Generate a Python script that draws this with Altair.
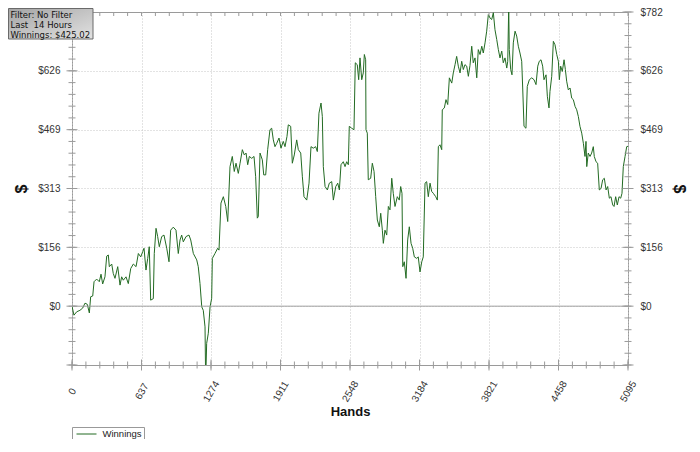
import altair as alt
import numpy as np
import pandas as pd

# ---------------- data ----------------
hands = [0, 18, 43, 73, 98, 119, 140, 159, 171, 190,
         202, 226, 250, 266, 281, 302, 318, 333, 342, 364,
         378, 394, 419, 440, 455, 470, 495, 516, 538, 562,
         587, 608, 630, 648, 660, 678, 694, 708, 721, 745,
         754, 770, 785, 800, 822, 843, 868, 889, 904, 928,
         953, 974, 990, 1005, 1020, 1045, 1072, 1088, 1112, 1143,
         1157, 1173, 1189, 1203, 1219, 1225, 1234, 1249, 1265, 1280,
         1286, 1310, 1335, 1347, 1365, 1387, 1409, 1427, 1448, 1469,
         1487, 1503, 1524, 1540, 1561, 1579, 1595, 1610, 1625, 1647,
         1668, 1683, 1698, 1707, 1723, 1744, 1757, 1775, 1793, 1814,
         1830, 1845, 1860, 1876, 1897, 1915, 1936, 1952, 1970, 1982,
         2004, 2019, 2037, 2059, 2074, 2096, 2111, 2126, 2151, 2172,
         2190, 2211, 2233, 2248, 2263, 2282, 2294, 2303, 2319, 2340,
         2358, 2380, 2395, 2417, 2435, 2450, 2465, 2486,
         2502, 2517, 2532, 2541, 2563, 2584, 2596, 2614, 2627, 2639,
         2655, 2669, 2679, 2691, 2694, 2706, 2715, 2737, 2752, 2768,
         2783, 2798, 2816, 2829, 2844, 2853, 2868, 2884, 2899, 2914,
         2930, 2944, 2960, 2981, 2999, 3012, 3024, 3031, 3045, 3061,
         3076, 3091, 3107, 3122, 3137, 3159, 3173, 3189, 3205, 3219,
         3235, 3250, 3265, 3281, 3296, 3311, 3333, 3348, 3357, 3372,
         3388, 3393, 3412, 3427, 3443, 3458, 3480, 3494, 3510, 3525,
         3540, 3556, 3571, 3586, 3601, 3617, 3632,
         3647, 3663, 3677, 3693, 3709, 3723, 3739, 3755, 3769, 3785,
         3800, 3815, 3831, 3846, 3861, 3876, 3892, 3907, 3922, 3938,
         3952, 3968, 3984, 3993, 4002, 4007, 4020, 4032, 4044, 4060,
         4075, 4090, 4105, 4121, 4130, 4142, 4160, 4172, 4191, 4213,
         4234, 4252, 4268, 4282, 4298, 4313, 4325, 4344, 4356, 4371,
         4380, 4396, 4411, 4426, 4442, 4457, 4466, 4478, 4493, 4509,
         4521, 4533, 4548, 4564, 4579, 4594, 4610, 4625, 4640, 4655,
         4671, 4686, 4701, 4710, 4717, 4731, 4747, 4762, 4777, 4786,
         4802, 4817, 4832, 4848, 4863, 4878, 4894, 4909, 4924, 4939,
         4955, 4967, 4982, 4997, 5013, 5028, 5040, 5052, 5068, 5083,
         5095]

winnings = [0, -24, -15, -11, -5, 8, 5, -18, 25, 27,
            65, 72, 65, 85, 59, 78, 133, 136, 105, 112,
            87, 74, 105, 56, 78, 69, 78, 60, 100, 112,
            105, 140, 131, 145, 154, 96, 127, 158, 16, 20,
            140, 207, 185, 158, 185, 189, 154, 118, 202, 210,
            202, 140, 176, 189, 171, 185, 189, 176, 140, 123,
            105, 60, -2, -11, -55, -200, -99, -72, -2, 21,
            127, 140, 154, 149, 274, 291, 265, 225, 371, 398,
            358, 380, 353, 380, 416, 402, 407, 376, 398, 393,
            398, 344, 234, 238, 407, 389, 349, 349, 416, 469,
            473, 442, 424, 433, 447, 420, 438, 424, 451, 482,
            478, 380, 402, 442, 416, 407, 344, 291, 282, 327,
            424, 420, 424, 411, 513, 540, 504, 371, 318, 309,
            327, 331, 282, 318, 327, 309, 376, 384,
            371, 384, 376, 478, 473, 469, 647, 642, 602, 660,
            602, 620, 669, 655, 469, 460, 336, 340, 380, 358,
            291, 229, 211, 247, 202, 167, 202, 189, 265, 256,
            340, 300, 265, 291, 282, 318, 300, 105, 118, 74,
            176, 211, 167, 154, 131, 127, 131, 91, 118, 131,
            327, 331, 291, 327, 305, 300, 291, 282, 424, 429,
            416, 522, 527, 549, 536, 607, 593, 620, 642, 664,
            638, 620, 651, 629, 642, 638, 611,
            640, 691, 647, 660, 607, 682, 669, 691, 673, 700,
            731, 775, 766, 762, 780, 735, 709, 682, 660, 678,
            647, 660, 633, 651, 795, 682, 629, 615, 700, 731,
            718, 691, 673, 651, 580, 478, 473, 584, 602, 607,
            602, 589, 638, 651, 655, 638, 602, 615, 558, 527,
            571, 611, 704, 695, 669, 651, 602, 638, 624, 655,
            629, 598, 575, 580, 553, 549, 531, 522, 504, 478,
            460, 433, 398, 438, 371, 407, 398, 407, 424, 398,
            384, 380, 309, 313, 336, 340, 309, 318, 287, 291,
            269, 265, 291, 269, 291, 287, 300, 371, 398, 424,
            425.02]

assert len(hands) == len(winnings)

series_name = "Winnings"
info_lines = ["Filter: No Filter", "Last\u00a0 14 Hours", "Winnings: $425.02"]

X_MAX = 5095
Y_MIN, Y_MAX = -156.4, 782.0
x_major = [i * X_MAX / 8 for i in range(9)]          # 0, 637, 1274, ... 5095
y_major = [i * Y_MAX / 5 for i in range(-1, 6)]      # -156.4 ... 782
y_left_labels = [v for v in y_major if 0 <= v < Y_MAX]   # $782 hidden by the info box
y_right_labels = [v for v in y_major if v >= 0]
x_minor = list(np.linspace(0, X_MAX, 41))
y_minor = list(np.linspace(Y_MIN, Y_MAX, 31))

# ---------------- styling ----------------
W, H = 556, 353
LINE = "#236b23"
AXG = "#9a9a9a"
GRID = "#c6c6c6"
FONT = "Liberation Sans"

df = pd.DataFrame({"hand": hands, "win": winnings, "series": series_name})

xscale = alt.Scale(domain=[0, X_MAX], nice=False, zero=False)
yscale = alt.Scale(domain=[Y_MIN, Y_MAX], nice=False, zero=False)

x_axis = alt.Axis(values=x_major, labelExpr="format(datum.value, '.0f')",
                  labelAngle=300, labelAlign="center", labelBaseline="middle",
                  labelPadding=26, ticks=False, tickSize=0, domain=False,
                  grid=True, gridDash=[1, 2], gridColor=GRID,
                  labelFont=FONT, labelFontSize=10, labelColor="#333",
                  labelOverlap=False, labelFlush=False,
                  title="Hands", titleFont=FONT, titleFontSize=13,
                  titleFontWeight="bold", titleColor="#111",
                  titleY=40, titleBaseline="top")

left_axis = alt.Axis(values=y_left_labels, labelExpr="'$' + format(datum.value, '.0f')",
                     ticks=False, tickSize=0, domain=False, grid=True,
                     gridDash=[1, 2], gridColor=GRID, labelPadding=12,
                     labelFont=FONT, labelFontSize=10, labelColor="#333",
                     labelOverlap=False, labelFlush=False,
                     title="$", titleFont=FONT, titleFontSize=16,
                     titleFontWeight="bold", titleColor="#111",
                     titleX=-51, titleY=H / 2, titleAngle=270,
                     titleAlign="center", titleBaseline="middle")

right_axis = alt.Axis(orient="right", values=y_right_labels,
                      labelExpr="'$' + format(datum.value, '.0f')",
                      ticks=False, tickSize=0, domain=False, grid=False,
                      labelPadding=12, labelFont=FONT, labelFontSize=10,
                      labelColor="#333", labelOverlap=False, labelFlush=False,
                      title="$", titleFont=FONT, titleFontSize=16,
                      titleFontWeight="bold", titleColor="#111",
                      titleX=50, titleY=H / 2, titleAngle=90,
                      titleAlign="center", titleBaseline="middle")

line = alt.Chart(df).mark_line(strokeWidth=1, clip=True).encode(
    x=alt.X("hand:Q", scale=xscale, axis=x_axis),
    y=alt.Y("win:Q", scale=yscale, axis=left_axis),
    color=alt.Color("series:N",
                    scale=alt.Scale(domain=[series_name], range=[LINE]),
                    legend=alt.Legend(orient="none", legendX=0, legendY=415,
                                      direction="horizontal", title=None,
                                      symbolType="M-2,0H2", symbolSize=100,
                                      symbolStrokeWidth=1, symbolOffset=7.5,
                                      strokeColor="#999", fillColor="white",
                                      padding=1.5, labelFont=FONT,
                                      labelFontSize=9.5, labelColor="#222",
                                      labelOffset=10.5)),
)

zero = alt.Chart(pd.DataFrame({"v": [0.0]})).mark_rule(
    color="#a0a0a0", strokeWidth=1).encode(
    y=alt.Y("v:Q", scale=yscale, axis=None))


def yticks(vals, pos, size, axis=None):
    return alt.Chart(pd.DataFrame({"v": vals})).mark_tick(
        orient="horizontal", size=size, thickness=1, color=AXG, opacity=1
    ).encode(y=alt.Y("v:Q", scale=yscale, axis=axis), x=alt.value(pos))


def xticks(vals, pos, size):
    return alt.Chart(pd.DataFrame({"v": vals})).mark_tick(
        orient="vertical", size=size, thickness=1, color=AXG, opacity=1
    ).encode(x=alt.X("v:Q", scale=xscale, axis=x_axis), y=alt.value(pos))


right_major = yticks(y_major, W, 11, axis=right_axis)
left_major = yticks(y_major, 0, 11)
left_minor = yticks(y_minor, 0, 7)
right_minor = yticks(y_minor, W, 7)
bottom_major = xticks(x_major, H, 11)
bottom_minor = xticks(x_minor, H, 7)
top_minor = xticks(x_minor, 2, 4)

box = alt.Chart(pd.DataFrame({"k": [0]})).mark_rect(
    fill=alt.Gradient(gradient="linear",
                      stops=[alt.GradientStop(color="#a4a4a4", offset=0),
                             alt.GradientStop(color="#e2e2e2", offset=1)],
                      x1=0, y1=0, x2=1, y2=1),
    stroke="#6a6a6a", strokeWidth=1).encode(
    x=alt.value(-63.5), x2=alt.value(21), y=alt.value(-3.5), y2=alt.value(27))

info = alt.Chart(pd.DataFrame({"k": [0]})).mark_text(
    text=info_lines, align="left", baseline="top", font="DejaVu Sans",
    fontSize=8.5, lineHeight=10.3, color="#111").encode(
    x=alt.value(-61.5), y=alt.value(-1.5))

chart = alt.layer(
    line, zero, right_major, left_major, left_minor, right_minor,
    bottom_major, bottom_minor, top_minor, box, info
).resolve_scale(y="independent").properties(
    width=W, height=H,
    padding={"left": 64, "top": 4, "right": 64, "bottom": 74},
    autosize=alt.AutoSizeParams(type="none"),
    background="white",
).configure_view(stroke=AXG, strokeWidth=1)

chart.save("out.html", embed_options={"renderer": "svg", "actions": False})
